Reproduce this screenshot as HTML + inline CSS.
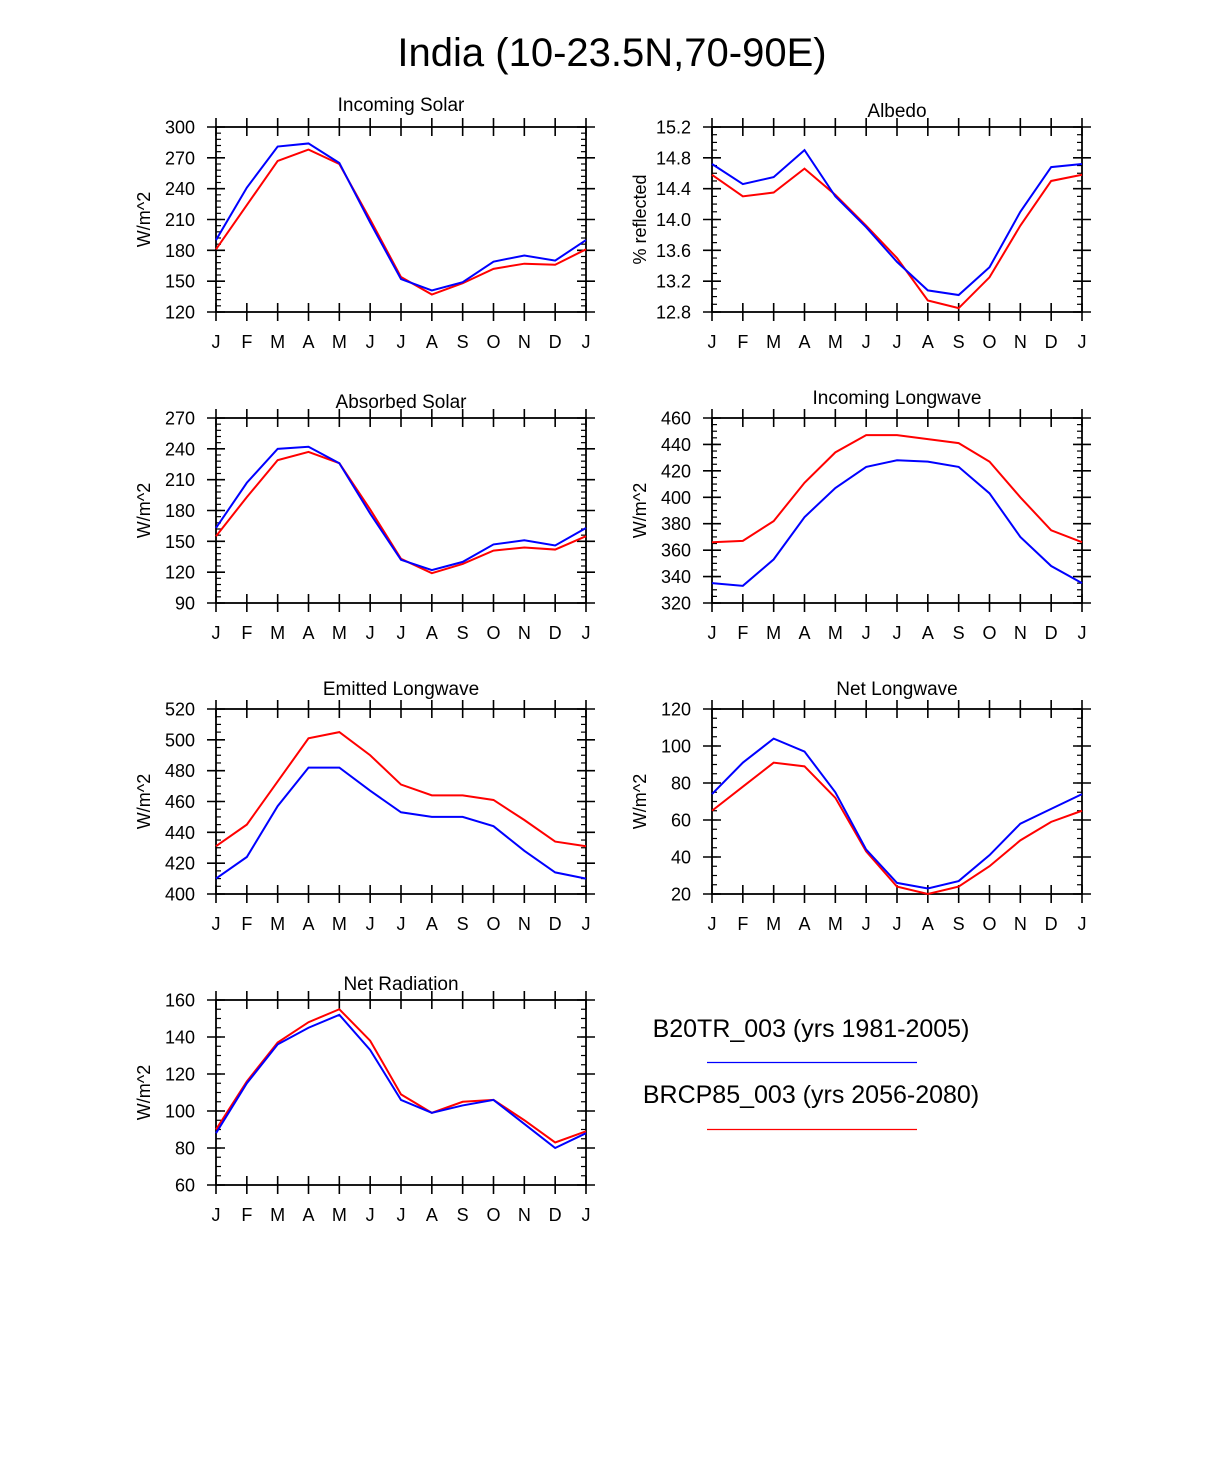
<!DOCTYPE html>
<html><head><meta charset="utf-8"><style>
body{margin:0;background:#fff;}
svg{display:block;font-family:"Liberation Sans",Arial,sans-serif;}
</style></head><body>
<svg id="c" width="1224" height="1474" viewBox="0 0 1224 1474">
<text x="612" y="66" font-size="40" text-anchor="middle">India (10-23.5N,70-90E)</text>
<g>
<text x="811" y="1037" font-size="25" text-anchor="middle">B20TR_003 (yrs 1981-2005)</text>
<line x1="707" x2="917" y1="1062.5" y2="1062.5" stroke="#0000ff" stroke-width="1.2"/>
<text x="811" y="1103" font-size="25" text-anchor="middle">BRCP85_003 (yrs 2056-2080)</text>
<line x1="707" x2="917" y1="1129.5" y2="1129.5" stroke="#ff0000" stroke-width="1.2"/>
</g>
</svg>
<script>
const months = ["J","F","M","A","M","J","J","A","S","O","N","D","J"];
const solarBlue = [190,241,281,284,265,207,152,141,149,169,175,170,190];
const solarRed = [181,224,267,278,264,210,154,137,148,162,167,166,181];
const albedoBlue = [14.72,14.46,14.55,14.9,14.3,13.9,13.45,13.08,13.02,13.38,14.1,14.68,14.72];
const albedoRed = [14.58,14.3,14.35,14.66,14.32,13.92,13.5,12.95,12.85,13.25,13.92,14.5,14.58];
const absBlue = [163,207,240,242,226,177,132,122,130,147,151,146,163];
const absRed = [155,193,229,237,226,181,133,119,128,141,144,142,155];
const lwInBlue = [335,333,353,385,407,423,428,427,423,403,370,348,335];
const lwInRed = [366,367,382,411,434,447,447,444,441,427,400,375,366];
const lwOutBlue = [410,424,457,482,482,467,453,450,450,444,428,414,410];
const lwOutRed = [431,445,473,501,505,490,471,464,464,461,448,434,431];
const netLwBlue = [74,91,104,97,75,44,26,23,27,41,58,66,74];
const netLwRed = [65,78,91,89,72,43,24,20,24,35,49,59,65];
const netRadBlue = [88,115,136,145,152,133,106,99,103,106,93,80,88];
const netRadRed = [90,116,137,148,155,138,109,99,105,106,95,83,89];

const panels = [
 {name:"incoming-solar",title:"Incoming Solar",yl:"W/m^2",x:216,y:127,min:120,max:300,step:30,minor:6,dec:0,b:solarBlue,r:solarRed,ty:111},
 {name:"albedo",title:"Albedo",yl:"% reflected",x:712,y:127,min:12.8,max:15.2,step:0.4,minor:0.1,dec:1,b:albedoBlue,r:albedoRed,ty:117},
 {name:"absorbed-solar",title:"Absorbed Solar",yl:"W/m^2",x:216,y:418,min:90,max:270,step:30,minor:6,dec:0,b:absBlue,r:absRed,ty:408},
 {name:"incoming-longwave",title:"Incoming Longwave",yl:"W/m^2",x:712,y:418,min:320,max:460,step:20,minor:5,dec:0,b:lwInBlue,r:lwInRed,ty:404},
 {name:"emitted-longwave",title:"Emitted Longwave",yl:"W/m^2",x:216,y:709,min:400,max:520,step:20,minor:5,dec:0,b:lwOutBlue,r:lwOutRed,ty:695},
 {name:"net-longwave",title:"Net Longwave",yl:"W/m^2",x:712,y:709,min:20,max:120,step:20,minor:5,dec:0,b:netLwBlue,r:netLwRed,ty:695},
 {name:"net-radiation",title:"Net Radiation",yl:"W/m^2",x:216,y:1000,min:60,max:160,step:20,minor:5,dec:0,b:netRadBlue,r:netRadRed,ty:990}
];
const svg=document.getElementById('c');
const NS="http://www.w3.org/2000/svg";
function mk(tag,attrs,parent){const e=document.createElementNS(NS,tag);for(const k in attrs)e.setAttribute(k,attrs[k]);parent.appendChild(e);return e;}
const W=370,H=185;
panels.forEach(p=>{
 const g=mk('g',{},svg);
 
 
 const xs=i=>p.x+i*W/12;
 const ys=v=>p.y+H-(v-p.min)/(p.max-p.min)*H;
 const t=mk('text',{x:p.x+W/2,y:p.ty,'font-size':19,'text-anchor':'middle'},g);t.textContent=p.title;
 
 
 const yl=mk('text',{x:0,y:0,'font-size':18,'text-anchor':'middle',transform:`translate(${p.x-66},${p.y+H/2}) rotate(-90)`},g);yl.textContent=p.yl;
 
 
 const nMin=Math.round((p.max-p.min)/p.minor);
 for(let k=0;k<=nMin;k++){const yy=ys(p.min+k*p.minor);
  mk('line',{x1:p.x,x2:p.x+5,y1:yy,y2:yy,stroke:'#000','stroke-width':1.2},g);
  mk('line',{x1:p.x+W,x2:p.x+W-5,y1:yy,y2:yy,stroke:'#000','stroke-width':1.2},g);}
 const nMaj=Math.round((p.max-p.min)/p.step);
 for(let k=0;k<=nMaj;k++){const v=p.min+k*p.step,yy=ys(v);
  mk('line',{x1:p.x-9,x2:p.x+9,y1:yy,y2:yy,stroke:'#000','stroke-width':1.6},g);
  mk('line',{x1:p.x+W-9,x2:p.x+W+9,y1:yy,y2:yy,stroke:'#000','stroke-width':1.6},g);
  const tl=mk('text',{x:p.x-21,y:yy+6.5,'font-size':18,'text-anchor':'end'},g);tl.textContent=v.toFixed(p.dec);
  
  }
 months.forEach((m,i)=>{const xx=xs(i);
  mk('line',{x1:xx,x2:xx,y1:p.y+H-9,y2:p.y+H+9,stroke:'#000','stroke-width':1.6},g);
  mk('line',{x1:xx,x2:xx,y1:p.y-9,y2:p.y+9,stroke:'#000','stroke-width':1.6},g);
  const tl=mk('text',{x:xx,y:p.y+H+36,'font-size':18,'text-anchor':'middle'},g);tl.textContent=m;
  
  });
 mk('rect',{x:p.x,y:p.y,width:W,height:H,fill:'none',stroke:'#000','stroke-width':1.8},g);
 [[p.r,'#ff0000','red'],[p.b,'#0000ff','blue']].forEach(([arr,col,nm])=>{
  const pl=mk('polyline',{points:arr.map((v,i)=>xs(i)+','+ys(v)).join(' '),fill:'none',stroke:col,'stroke-width':2},g);
  
  
 });
});
</script>
</body></html>
